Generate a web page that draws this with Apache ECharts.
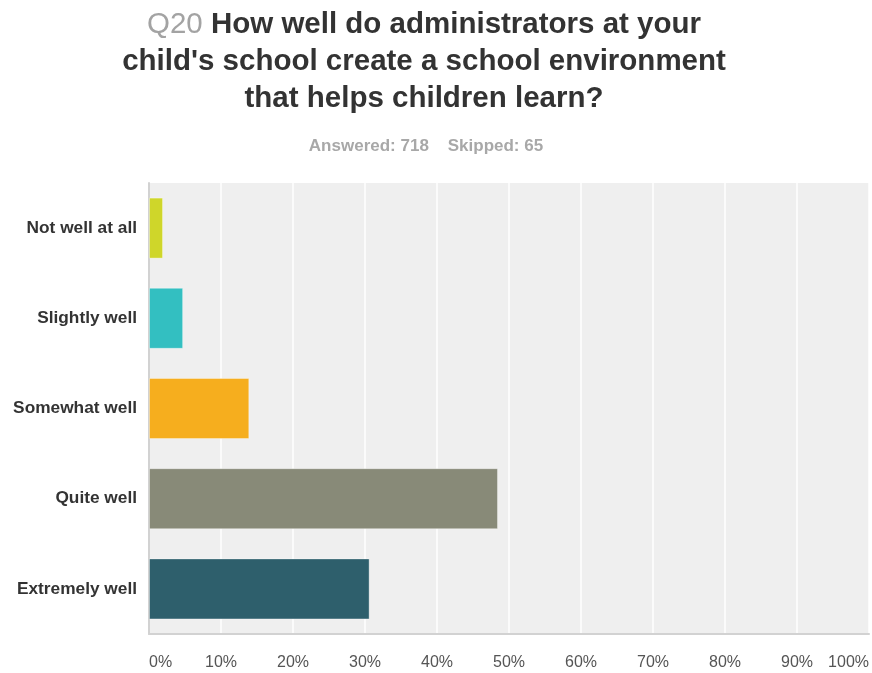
<!DOCTYPE html>
<html>
<head>
<meta charset="utf-8">
<script src="https://cdn.jsdelivr.net/npm/echarts@6/dist/echarts.min.js"></script>
<style>
  html, body { margin: 0; padding: 0; background: #ffffff; }
  #chart { width: 872px; height: 673px; }
</style>
</head>
<body>
<div id="chart"></div>
<script>
// Survey question Q20: share of answers per response choice (percent of 718 answered)
const categories = ['Not well at all', 'Slightly well', 'Somewhat well', 'Quite well', 'Extremely well'];
const percents = [1.95, 4.74, 13.93, 48.47, 30.64];
const barColors = ['#cfd62a', '#33bfc1', '#f6ae1e', '#888a78', '#2e5f6c'];
const xTicks = [0, 10, 20, 30, 40, 50, 60, 70, 80, 90, 100];

const questionNo = 'Q20';
const questionLines = [
  'How well do administrators at your',
  "child's school create a school environment",
  'that helps children learn?'
];
const answeredCount = 718;
const skippedCount = 65;

const chart = echarts.init(document.getElementById('chart'), null, { renderer: 'canvas' });

const sansFont = '"Liberation Sans", Arial, Helvetica, sans-serif';

chart.setOption({
  animation: false,
  backgroundColor: '#ffffff',
  title: [
    {
      text: '{q|' + questionNo + '} {t|' + questionLines[0] + '}\n{t|' + questionLines[1] + '}\n{t|' + questionLines[2] + '}',
      left: 419,
      top: 1,
      textAlign: 'center',
      textStyle: {
        fontFamily: sansFont,
        fontSize: 29.5,
        lineHeight: 37,
        rich: {
          q: { color: '#a3a3a3', fontWeight: 'normal', fontSize: 29.5, fontFamily: sansFont, lineHeight: 37 },
          t: { color: '#333333', fontWeight: 'bold', fontSize: 29.5, fontFamily: sansFont, lineHeight: 37 }
        }
      }
    },
    {
      text: 'Answered: ' + answeredCount + '    Skipped: ' + skippedCount,
      left: 421,
      top: 133,
      textAlign: 'center',
      textStyle: {
        fontFamily: sansFont,
        fontSize: 17,
        fontWeight: 'bold',
        color: '#a8a8a8'
      }
    }
  ],
  grid: {
    left: 149,
    right: 3,
    top: 183,
    bottom: 39,
    show: true,
    backgroundColor: '#efefef',
    borderWidth: 0,
    containLabel: false
  },
  xAxis: {
    type: 'value',
    min: 0,
    max: 100,
    interval: 10,
    axisLine: { show: true, lineStyle: { color: '#d2d2d2', width: 2 } },
    axisTick: { show: false },
    splitLine: { show: true, lineStyle: { color: '#ffffff', width: 1.5 } },
    axisLabel: {
      formatter: function (v) { return xTicks.indexOf(v) >= 0 ? v + '%' : ''; },
      color: '#555555',
      fontFamily: sansFont,
      fontSize: 16,
      margin: 21,
      alignMinLabel: 'left',
      alignMaxLabel: 'right'
    }
  },
  yAxis: {
    type: 'category',
    data: categories,
    inverse: true,
    axisLine: { show: true, lineStyle: { color: '#d2d2d2', width: 2 } },
    axisTick: { show: false },
    splitLine: { show: false },
    axisLabel: {
      color: '#333333',
      fontFamily: sansFont,
      fontWeight: 'bold',
      fontSize: 17.3,
      margin: 12
    }
  },
  series: [
    {
      type: 'bar',
      data: percents.map(function (v, i) {
        return {
          value: v,
          itemStyle: { color: barColors[i] }
        };
      }),
      barWidth: 61,
      itemStyle: {
        borderColor: 'rgba(255,255,255,0.35)',
        borderWidth: 1
      },
      z: 3
    }
  ]
});
</script>
</body>
</html>
